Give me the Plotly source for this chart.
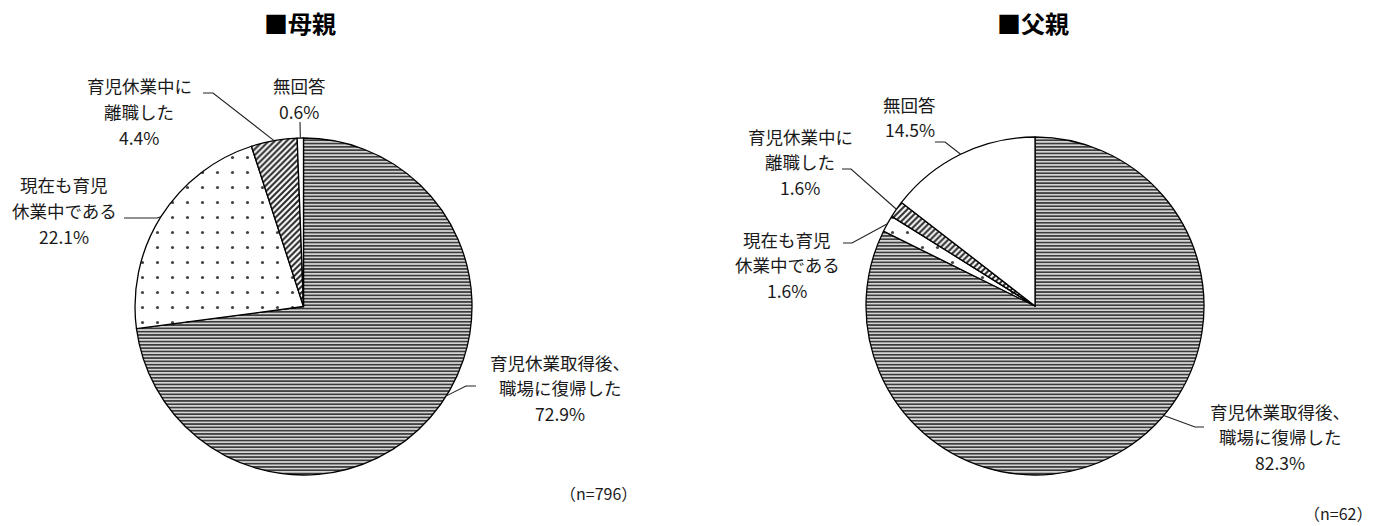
import math
import plotly.graph_objects as go

# ---------------- data ----------------
categories = ["育児休業取得後、職場に復帰した", "現在も育児休業中である", "育児休業中に離職した", "無回答"]
mother_values = [72.9, 22.1, 4.4, 0.6]
father_values = [82.3, 1.6, 1.6, 14.5]
mother_label_lines = [["育児休業取得後、", "職場に復帰した"], ["現在も育児", "休業中である"],
                      ["育児休業中に", "離職した"], ["無回答"]]
father_label_lines = [["育児休業取得後、", "職場に復帰した"], ["現在も育児", "休業中である"],
                      ["育児休業中に", "離職した"], ["無回答"]]
titles = ["■母親", "■父親"]
sample_sizes = ["（n=796）", "（n=62）"]

# ---------------- layout / style ----------------
W, H = 1376, 526
FONT = "Noto Sans CJK JP"
TXT = "#1a1a1a"
LABEL_SIZE = 17.5
LINE_GAP = 25.5

pattern_shapes = ["-", ".", "/", ""]
pattern_fg = ["#3c3c3c", "#444444", "#2a2a2a", "#000000"]
pattern_bg = ["#d4d4d4", "white", "white", "white"]
pattern_size = [3.3, 15, 4.2, 8]
pattern_solid = [0.5, 0.035, 0.5, 0.1]

pies = [
    dict(values=mother_values, lines=mother_label_lines, cx=303.5, cy=306.5, r=168.5,
         title=titles[0], title_xy=(300, 23), n=sample_sizes[0], n_xy=(598, 493),
         labels=[
             dict(cx=560, y0=362, frac=0.465, pts=[(466, 386), (476, 386)]),
             dict(cx=64, y0=185, frac=0.5, pts=[(157, 218), (124, 218)]),
             dict(cx=139, y0=86, frac=0.5, pts=[(213, 93), (203, 93)]),
             dict(cx=299, y0=86, frac=0.5, pts=[(300, 122)]),
         ]),
    dict(values=father_values, lines=father_label_lines, cx=1035, cy=306, r=169,
         title=titles[1], title_xy=(1033, 23), n=sample_sizes[1], n_xy=(1338, 513),
         labels=[
             dict(cx=1280, y0=411, frac=0.44, pts=[(1195, 427), (1204, 427)]),
             dict(cx=787, y0=239, frac=0.5, pts=[(852, 243), (843, 243)]),
             dict(cx=800, y0=136, frac=0.5, pts=[(851, 169), (842, 169)]),
             dict(cx=910, y0=104, frac=0.5, pts=[(945, 142), (935, 142)]),
         ]),
]


def px(x):
    return x / W


def py(y):
    return 1 - y / H


fig = go.Figure()
annotations = []
shapes = []

for p in pies:
    vals = p["values"]
    cx, cy, r = p["cx"], p["cy"], p["r"]
    fig.add_trace(go.Pie(
        labels=categories,
        values=vals,
        sort=False,
        direction="clockwise",
        rotation=0,
        textinfo="none",
        hoverinfo="label+percent",
        showlegend=False,
        domain=dict(x=[px(cx - r), px(cx + r)], y=[py(cy + r), py(cy - r)]),
        marker=dict(
            colors=["white"] * 4,
            line=dict(color="black", width=1.3),
            pattern=dict(shape=pattern_shapes, fgcolor=pattern_fg, bgcolor=pattern_bg,
                         size=pattern_size, solidity=pattern_solid, fillmode="replace"),
        ),
    ))

    total = sum(vals)
    cum = 0.0
    for i, v in enumerate(vals):
        lab = p["labels"][i]
        text_lines = p["lines"][i] + [f"{v:.1f}%"]
        for k, t in enumerate(text_lines):
            annotations.append(dict(
                x=px(lab["cx"]), y=py(lab["y0"] + k * LINE_GAP), xref="paper", yref="paper",
                text=t, showarrow=False, xanchor="center", yanchor="middle",
                font=dict(family=FONT, size=LABEL_SIZE, color=TXT)))
        # leader line: anchor on the pie edge at the slice's angle
        f = (cum + lab["frac"] * v) / total
        th = 2 * math.pi * f
        ax, ay = cx + r * math.sin(th), cy - r * math.cos(th)
        path = f"M {px(ax)} {py(ay)}"
        for (x, y) in lab["pts"]:
            path += f" L {px(x)} {py(y)}"
        shapes.append(dict(type="path", path=path, xref="paper", yref="paper",
                           line=dict(color="#222222", width=1.1)))
        cum += v

    annotations.append(dict(
        x=px(p["title_xy"][0]), y=py(p["title_xy"][1]), xref="paper", yref="paper",
        text=f"<b>{p['title']}</b>", showarrow=False, xanchor="center", yanchor="middle",
        font=dict(family=FONT, size=24, color="#000000")))
    annotations.append(dict(
        x=px(p["n_xy"][0]), y=py(p["n_xy"][1]), xref="paper", yref="paper",
        text=p["n"], showarrow=False, xanchor="center", yanchor="middle",
        font=dict(family=FONT, size=16, color=TXT)))

fig.update_layout(
    width=W, height=H,
    margin=dict(l=0, r=0, t=0, b=0),
    paper_bgcolor="white", plot_bgcolor="white",
    annotations=annotations, shapes=shapes,
    font=dict(family=FONT),
)

fig.write_html("out.html", config={"displayModeBar": False},
               post_script="document.body.style.margin='0';document.body.style.overflow='hidden';")
